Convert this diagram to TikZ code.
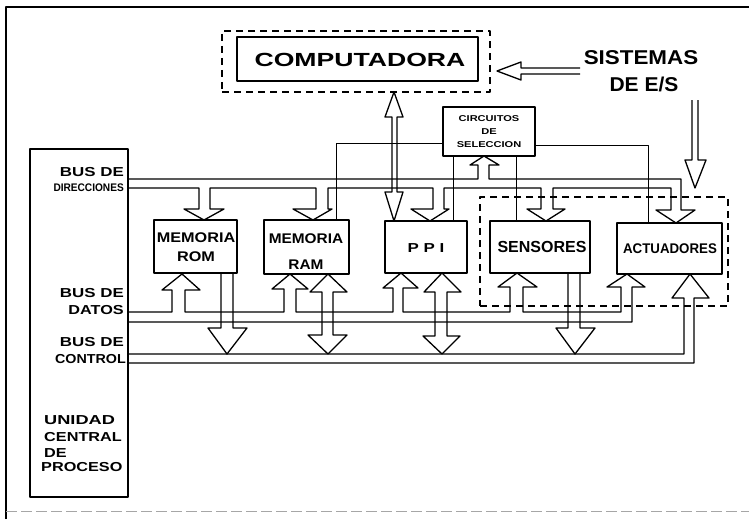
\documentclass[tikz,border=0pt]{standalone}
\usepackage{fontspec}
\setmainfont{Liberation Sans}
\usepackage{graphicx}
\newcommand\wtxt[2]{\scalebox{#1}[1]{#2}}
\newcommand\fsz[1]{\fontsize{#1}{#1}\selectfont}
\begin{document}
\begin{tikzpicture}[x=1pt,y=-1pt,line join=round,
  ln/.style={line width=1.3pt},
  sel/.style={line width=1.0pt},
  box/.style={draw,line width=1.3pt,inner sep=0pt},
  dbox/.style={draw,line width=1.3pt,inner sep=0pt,dash pattern=on 7pt off 5pt},
  lbl/.style={inner sep=0pt,font=\bfseries}]
\useasboundingbox (0,0) rectangle (749,519);
% outer frame
\draw[ln] (6,519) -- (6,7) -- (749,7);
\draw[line width=1pt,black!35,dash pattern=on 11pt off 4pt] (6,511) -- (749,511);
% boxes
\node[box,minimum width=98pt,minimum height=348pt] (cpu) at (79,323) {};
\node[dbox,minimum width=268pt,minimum height=61pt] (compd) at (356,61.5) {};
\node[box,minimum width=241pt,minimum height=44pt] (comp) at (357.5,59) {};
\node[dbox,minimum width=248pt,minimum height=109pt] (es) at (604,251.5) {};
\node[box,minimum width=92pt,minimum height=49pt] (circ) at (489,131.5) {};
\node[box,minimum width=83pt,minimum height=53pt] (rom) at (195.5,246.5) {};
\node[box,minimum width=85pt,minimum height=54pt] (ram) at (306.5,247) {};
\node[box,minimum width=82pt,minimum height=52pt] (ppi) at (426,247) {};
\node[box,minimum width=100pt,minimum height=52pt] (sens) at (540,247) {};
\node[box,minimum width=105pt,minimum height=51pt] (act) at (669.5,248.5) {};
% texts
\node[lbl,font=\bfseries\fsz{19}] (tcomp) at (360,60) {\wtxt{1.4}{COMPUTADORA}};
\node[lbl,font=\bfseries\fsz{20}] (tsis) at (641,58) {\wtxt{1.12}{SISTEMAS}};
\node[lbl,font=\bfseries\fsz{20}] (tdes) at (644,84) {\wtxt{1.05}{DE E/S}};
\node[lbl,font=\bfseries\fsz{8.5}] (tc1) at (489,119) {\wtxt{1.3}{CIRCUITOS}};
\node[lbl,font=\bfseries\fsz{8.5}] (tc2) at (489,132) {\wtxt{1.3}{DE}};
\node[lbl,font=\bfseries\fsz{8.5}] (tc3) at (489,145) {\wtxt{1.3}{SELECCION}};
\node[lbl,font=\bfseries\fsz{14}] (trom1) at (196,238) {\wtxt{1.16}{MEMORIA}};
\node[lbl,font=\bfseries\fsz{14}] (trom2) at (196,257) {\wtxt{1.16}{ROM}};
\node[lbl,font=\bfseries\fsz{14}] (tram1) at (306,239) {\wtxt{1.1}{MEMORIA}};
\node[lbl,font=\bfseries\fsz{14}] (tram2) at (306,265) {\wtxt{1.1}{RAM}};
\node[lbl,font=\bfseries\fsz{13}] (tppi) at (426,248) {\wtxt{1.3}{P P I}};
\node[lbl,font=\bfseries\fsz{16}] (tsens) at (542,247) {SENSORES};
\node[lbl,font=\bfseries\fsz{14}] (tact) at (670,249) {\wtxt{0.95}{ACTUADORES}};
\node[lbl,font=\bfseries\fsz{13},anchor=east] (tb1) at (124,172) {\wtxt{1.3}{BUS DE}};
\node[lbl,font=\bfseries\fsz{11},anchor=east] (tb2) at (124,188) {\wtxt{0.92}{DIRECCIONES}};
\node[lbl,font=\bfseries\fsz{13},anchor=east] (tb3) at (124,293) {\wtxt{1.3}{BUS DE}};
\node[lbl,font=\bfseries\fsz{13},anchor=east] (tb4) at (124,310) {\wtxt{1.25}{DATOS}};
\node[lbl,font=\bfseries\fsz{13},anchor=east] (tb5) at (124,342) {\wtxt{1.3}{BUS DE}};
\node[lbl,font=\bfseries\fsz{13},anchor=east] (tb6) at (126,359) {\wtxt{1.1}{CONTROL}};
\node[lbl,font=\bfseries\fsz{13},anchor=west] (tu1) at (44,420) {\wtxt{1.4}{UNIDAD}};
\node[lbl,font=\bfseries\fsz{13},anchor=west] (tu2) at (44,437) {\wtxt{1.25}{CENTRAL}};
\node[lbl,font=\bfseries\fsz{13},anchor=west] (tu3) at (44,453) {\wtxt{1.25}{DE}};
\node[lbl,font=\bfseries\fsz{13},anchor=west] (tu4) at (41,467) {\wtxt{1.25}{PROCESO}};
% address bus
\draw[ln] (128,179) -- (478,179) -- (478,165) -- (470,165) -- (484,156) -- (499,165) -- (489,165) -- (489,179)
  -- (681,179) -- (681,210) -- (695,210) -- (676,223) -- (656,210) -- (671,210) -- (671,188)
  -- (553,188) -- (553,209) -- (565,209) -- (546,221) -- (527,209) -- (541,209) -- (541,188)
  -- (444,188) -- (444,209) -- (449,209) -- (430,221) -- (411,209) -- (433,209) -- (433,188)
  -- (328,188) -- (328,209) -- (332,209) -- (313,220) -- (293,209) -- (316,209) -- (316,188)
  -- (210,188) -- (210,209) -- (224,209) -- (204,220) -- (184,209) -- (199,209) -- (199,188)
  -- (128,188);
% data bus
\draw[ln] (128,312) -- (172,312) -- (172,290) -- (162,290) -- (182,274) -- (200,290) -- (185,290) -- (185,312)
  -- (284,312) -- (284,289) -- (272,289) -- (290,274) -- (308,289) -- (296,289) -- (296,312)
  -- (393,312) -- (393,288) -- (383,288) -- (401,273) -- (418,288) -- (403,288) -- (403,312)
  -- (510,312) -- (510,287) -- (498,287) -- (517,273) -- (537,287) -- (523,287) -- (523,312)
  -- (621,312) -- (621,287) -- (607,287) -- (627,274) -- (645,287) -- (632,287) -- (632,322)
  -- (128,322);
% control bus
\draw[ln] (128,354) -- (684,354) -- (684,298) -- (672,298) -- (690,274) -- (709,298) -- (694,298) -- (694,363) -- (128,363);
% down arrows to control bus
\draw[ln] (221,273) -- (221,328) -- (208,328) -- (227,354) -- (247,328) -- (233,328) -- (233,273);
\draw[ln] (568,273) -- (568,328) -- (556,328) -- (575,354) -- (595,328) -- (580,328) -- (580,273);
% double arrows
\draw[ln] (328,274) -- (347,292) -- (333,292) -- (333,335) -- (347,335) -- (328,354) -- (308,335) -- (322,335) -- (322,292) -- (310,292) -- cycle;
\draw[ln] (442,273) -- (461,292) -- (447,292) -- (447,336) -- (460,336) -- (442,354) -- (423,336) -- (435,336) -- (435,292) -- (424,292) -- cycle;
% selection lines
\draw[sel] (ram.north -| 336,0) -- (336,143) -- (circ.west |- 0,143);
\draw[sel] (circ.south -| 453,0) -- (ppi.north -| 453,0);
\draw[sel] (circ.south -| 516,0) -- (sens.north -| 516,0);
\draw[sel] (circ.east |- 0,145) -- (648,145) -- (act.north -| 648,0);
% computer <-> PPI
\draw[ln] (394,92) -- (403,117) -- (397,117) -- (397,192) -- (403,192) -- (394,221) -- (385,192) -- (392,192) -- (392,117) -- (385,117) -- cycle;
% sistemas -> computadora
\draw[ln] (580,68) -- (521,68) -- (521,62) -- (497,71) -- (521,80) -- (521,74) -- (580,74);
% sistemas -> E/S
\draw[ln] (692,100) -- (692,160) -- (685,160) -- (695,188) -- (706,160) -- (698,160) -- (698,100);
\end{tikzpicture}
\end{document}
